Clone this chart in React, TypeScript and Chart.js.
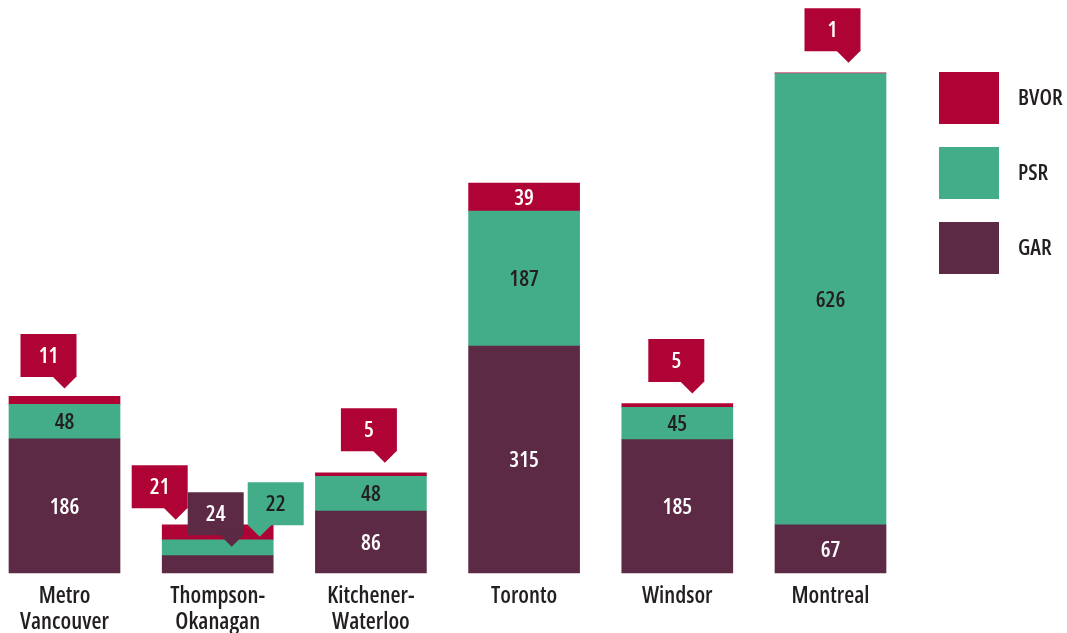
import React, { useEffect, useRef } from 'react';
import { Chart, registerables } from 'chart.js';

Chart.register(...registerables);

const categories: (string | string[])[] = [
  ['Metro', 'Vancouver'],
  ['Thompson-', 'Okanagan'],
  ['Kitchener-', 'Waterloo'],
  'Toronto',
  'Windsor',
  'Montreal',
];
const garValues = [186, 24, 86, 315, 185, 67];
const psrValues = [48, 22, 48, 187, 45, 626];
const bvorValues = [11, 21, 5, 39, 5, 1];
const seriesNames = ['GAR', 'PSR', 'BVOR'];
const seriesColors = ['#5C2A45', '#43AC88', '#B00335'];
const labelColors = ['#FFFFFF', '#231F20', '#FFFFFF'];

// callouts for small segments: dataset index, category index, tip offset from bar top/centre, pointer side
const callouts = [
  { ds: 2, cat: 0, dx: 0, dy: -8, side: 'right' },
  { ds: 2, cat: 1, dx: -42, dy: -5, side: 'right' },
  { ds: 1, cat: 1, dx: 42, dy: -3, side: 'left' },
  { ds: 0, cat: 1, dx: 14, dy: -9, side: 'right' },
  { ds: 2, cat: 2, dx: 14, dy: -10, side: 'right' },
  { ds: 2, cat: 4, dx: 15, dy: -10, side: 'right' },
  { ds: 2, cat: 5, dx: 18, dy: -10, side: 'right' },
];

const FONT = '"Open Sans", "DejaVu Sans Condensed", sans-serif';
const STRETCH = 'condensed';
const TEXT_DARK = '#231F20';

const labelPlugin = {
  id: 'valueLabels',
  afterDatasetsDraw(chart: any) {
    const ctx = chart.ctx;
    ctx.save();
    ctx.font = `${STRETCH} 600 22px ${FONT}`;
    ctx.textAlign = 'center';
    ctx.textBaseline = 'middle';
    chart.data.datasets.forEach((ds: any, i: number) => {
      const meta = chart.getDatasetMeta(i);
      meta.data.forEach((el: any, j: number) => {
        if (callouts.some((c) => c.ds === i && c.cat === j)) return;
        ctx.fillStyle = labelColors[i];
        ctx.fillText(String(ds.data[j]), el.x, (el.y + el.base) / 2 + 1.5);
      });
    });
    const bw = 56, bh = 43, pw = 24, ph = 11.5;
    callouts.forEach((c) => {
      const el = chart.getDatasetMeta(c.ds).data[c.cat];
      const tipX = el.x + c.dx;
      const tipY = el.y + c.dy;
      const boxBottom = tipY - ph;
      const boxTop = boxBottom - bh;
      const boxLeft = c.side === 'right' ? tipX + pw / 2 - bw : tipX - pw / 2;
      ctx.fillStyle = seriesColors[c.ds];
      ctx.beginPath();
      ctx.rect(boxLeft, boxTop, bw, bh);
      ctx.fill();
      ctx.beginPath();
      ctx.moveTo(tipX - pw / 2, boxBottom - 0.5);
      ctx.lineTo(tipX + pw / 2, boxBottom - 0.5);
      ctx.lineTo(tipX, tipY);
      ctx.closePath();
      ctx.fill();
      ctx.fillStyle = labelColors[c.ds];
      ctx.fillText(String(chart.data.datasets[c.ds].data[c.cat]), boxLeft + bw / 2, boxTop + bh / 2 + 1);
    });
    ctx.restore();
  },
  afterDraw(chart: any) {
    const ctx = chart.ctx;
    ctx.save();
    ctx.font = `${STRETCH} 600 22px ${FONT}`;
    ctx.textAlign = 'left';
    ctx.textBaseline = 'middle';
    const order = [2, 1, 0];
    order.forEach((si, k) => {
      const y = 72 + k * 75;
      ctx.fillStyle = seriesColors[si];
      ctx.fillRect(939, y, 60, 52);
      ctx.fillStyle = TEXT_DARK;
      ctx.fillText(seriesNames[si], 1018, y + 27);
    });
    ctx.restore();
  },
};

export default function App() {
  const ref = useRef<HTMLCanvasElement | null>(null);
  useEffect(() => {
    document.body.style.margin = '0';
    const canvas = ref.current;
    if (!canvas) return;
    const chart = new Chart(canvas, {
      type: 'bar',
      data: {
        labels: categories,
        datasets: [
          { label: seriesNames[0], data: garValues, backgroundColor: seriesColors[0] },
          { label: seriesNames[1], data: psrValues, backgroundColor: seriesColors[1] },
          { label: seriesNames[2], data: bvorValues, backgroundColor: seriesColors[2] },
        ].map((d) => ({ ...d, barThickness: 111, borderWidth: 0, clip: false as any })),
      },
      options: {
        animation: false,
        responsive: false,
        layout: { padding: { left: 64.5, right: 236.5, top: 0, bottom: 0 } },
        plugins: { legend: { display: false }, tooltip: { enabled: false } },
        scales: {
          x: {
            stacked: true,
            offset: false,
            grid: { display: false, drawTicks: false },
            border: { display: false },
            ticks: {
              color: TEXT_DARK,
              font: { family: FONT, size: 23, weight: `${STRETCH} 600` as any, lineHeight: 1.13 },
              padding: 10,
              maxRotation: 0,
              autoSkip: false,
            },
            afterFit: (s: any) => {
              s.height = 60;
            },
          },
          y: { stacked: true, display: false, min: 0, max: 795 },
        },
      },
      plugins: [labelPlugin],
    });
    return () => chart.destroy();
  }, []);
  return (
    <div style={{ width: 1067, height: 633 }}>
      <canvas ref={ref} width={1067} height={633} style={{ display: 'block' }} />
    </div>
  );
}
